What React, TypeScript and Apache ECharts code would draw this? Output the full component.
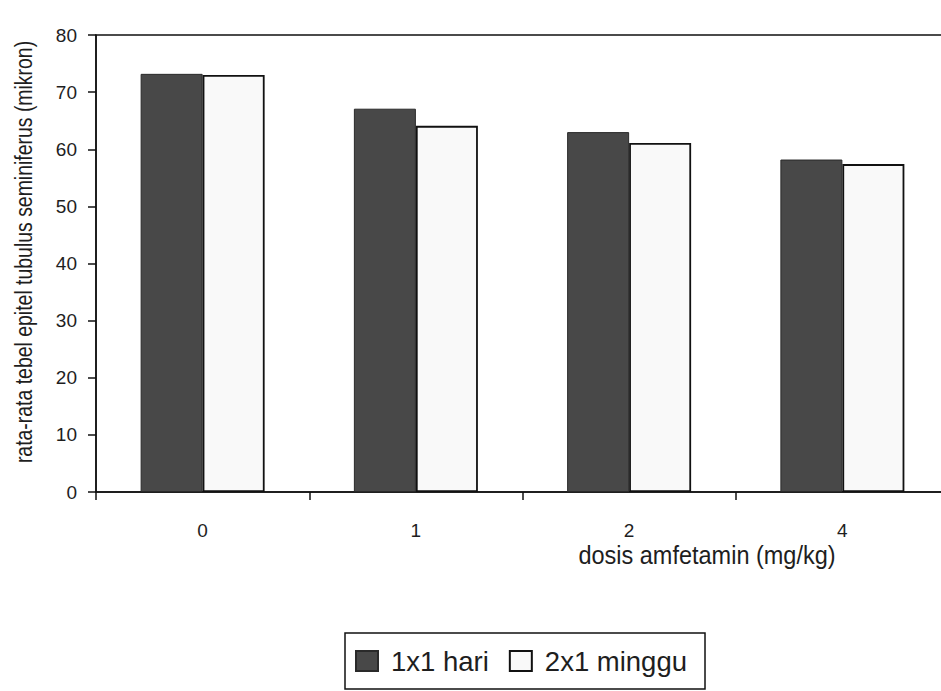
import React, { useEffect, useRef } from "react";
import * as echarts from "echarts";

const doses = ["0", "1", "2", "4"];
const daily = [73.2, 67.1, 63.0, 58.2];
const weekly = [73.0, 64.1, 61.1, 57.4];
const seriesNames = ["1x1 hari", "2x1 minggu"];
const yTitle = "rata-rata tebel epitel tubulus seminiferus (mikron)";
const xTitle = "dosis amfetamin (mg/kg)";

const FONT = "'Liberation Sans', Arial, sans-serif";
const INK = "#1e1e1e";

export default function App() {
  const ref = useRef<HTMLDivElement>(null);
  useEffect(() => {
    if (!ref.current) return;
    const chart = echarts.init(ref.current, undefined, { renderer: "svg" });
    chart.setOption({
      animation: false,
      backgroundColor: "#ffffff",
      grid: {
        left: 96,
        right: 0,
        top: 35,
        bottom: 199,
        show: true,
        borderColor: "#111",
        borderWidth: 1.5,
        backgroundColor: "transparent",
      },
      graphic: [
        {
          type: "text",
          x: 24,
          y: 252,
          rotation: Math.PI / 2,
          scaleX: 0.81,
          style: {
            text: yTitle,
            font: `24px ${FONT}`,
            fill: INK,
            align: "center",
            verticalAlign: "middle",
          },
        },
        {
          type: "text",
          x: 707,
          y: 555,
          scaleX: 0.94,
          style: {
            text: xTitle,
            font: `25px ${FONT}`,
            fill: INK,
            align: "center",
            verticalAlign: "middle",
          },
        },
      ],
      legend: {
        data: seriesNames,
        left: 345,
        top: 633,
        padding: [14, 18, 14, 10],
        itemGap: 20,
        itemWidth: 22,
        itemHeight: 20,
        borderColor: "#111",
        borderWidth: 1.5,
        icon: "rect",
        textStyle: { fontFamily: FONT, fontSize: 27.5, color: INK, padding: [0, 0, 0, 8] },
      },
      xAxis: {
        type: "category",
        data: doses,
        axisLine: { lineStyle: { color: "#111", width: 1.5 } },
        axisTick: { show: true, length: 8, lineStyle: { color: "#111", width: 1.5 } },
        axisLabel: { fontFamily: FONT, fontSize: 19, color: INK, margin: 29 },
      },
      yAxis: {
        type: "value",
        min: 0,
        max: 80,
        interval: 10,
        axisLine: { show: true, lineStyle: { color: "#111", width: 1.5 } },
        axisTick: { show: true, length: 8, lineStyle: { color: "#111", width: 1.5 } },
        splitLine: { show: false },
        axisLabel: { fontFamily: FONT, fontSize: 19, color: INK, margin: 19 },
      },
      series: [
        {
          name: seriesNames[0],
          type: "bar",
          data: daily,
          barWidth: 62,
          barGap: "0%",
          itemStyle: { color: "#484848", borderColor: "#2a2a2a", borderWidth: 1 },
        },
        {
          name: seriesNames[1],
          type: "bar",
          data: weekly,
          barWidth: 62,
          barGap: "0%",
          itemStyle: { color: "#f9f9f9", borderColor: "#111", borderWidth: 1.8 },
        },
      ],
    });
    return () => chart.dispose();
  }, []);
  return (
    <div style={{ position: "absolute", left: 0, top: 0, width: 941, height: 691, overflow: "hidden" }}>
      <div ref={ref} style={{ width: 949, height: 691 }} />
    </div>
  );
}
